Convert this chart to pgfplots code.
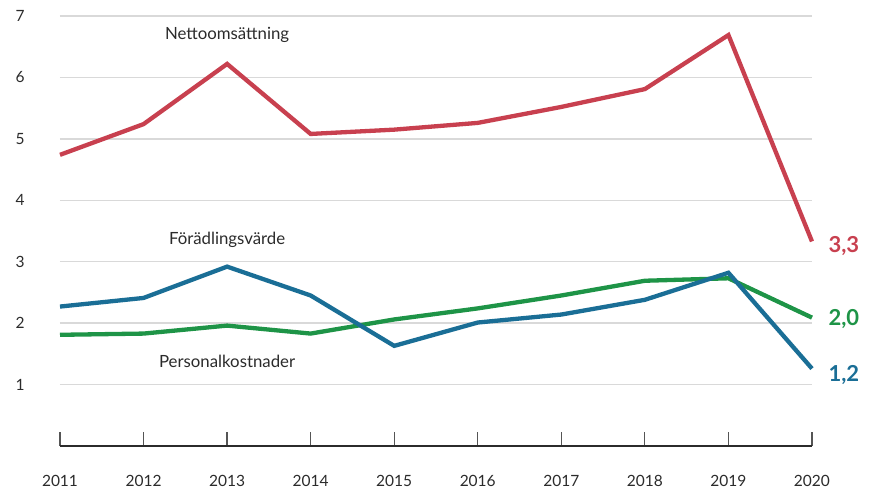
\documentclass[border=0pt]{standalone}
\usepackage{fontspec}
\setmainfont{Lato}
\usepackage{pgfplots}
\pgfplotsset{compat=1.18}
\definecolor{cred}{HTML}{C8404F}
\definecolor{cblue}{HTML}{1A6E96}
\definecolor{cgreen}{HTML}{1E9447}
\definecolor{ctext}{HTML}{2B2B2B}
\definecolor{cgrid}{HTML}{D9D9D9}
\begin{document}
\begin{tikzpicture}
\path[use as bounding box] (-60pt,-43pt) rectangle (821pt,446pt);
\begin{axis}[
  at={(0pt,0pt)}, anchor=south west,
  scale only axis, width=752pt, height=430pt,
  xmin=2011, xmax=2020, ymin=0, ymax=7,
  xtick={2011,...,2020}, ytick={1,...,7},
  /pgf/number format/assume math mode=true,
  xticklabel style={/pgf/number format/1000 sep={}, anchor=center, yshift=-35pt, font=\fontsize{15.5}{18}\selectfont, text=ctext},
  yticklabel style={anchor=center, xshift=-40pt, font=\fontsize{15.5}{18}\selectfont, text=ctext},
  axis x line*=bottom, axis y line*=left,
  x axis line style={-, draw=ctext, line width=1.2pt},
  y axis line style={draw=none},
  ytick style={draw=none},
  xtick style={draw=ctext!80, line width=1.2pt},
  major tick length=14pt, tick align=inside,
  ymajorgrids, major grid style={cgrid, line width=1.3pt},
  clip=false,
  every axis plot/.append style={line width=4.3pt, line join=miter, no markers},
]
\addplot[cred] coordinates {(2011,4.74) (2012,5.24) (2013,6.22) (2014,5.08) (2015,5.15) (2016,5.26) (2017,5.52) (2018,5.81) (2019,6.69) (2020,3.33)};
\addplot[cgreen] coordinates {(2011,1.81) (2012,1.83) (2013,1.96) (2014,1.83) (2015,2.06) (2016,2.24) (2017,2.45) (2018,2.69) (2019,2.73) (2020,2.09)};
\addplot[cblue] coordinates {(2011,2.27) (2012,2.41) (2013,2.92) (2014,2.45) (2015,1.63) (2016,2.01) (2017,2.14) (2018,2.38) (2019,2.82) (2020,1.26)};
\node[font=\fontsize{16.8}{19}\selectfont, text=ctext] at (axis cs:2013,6.69) {Nettoomsättning};
\node[font=\fontsize{16.8}{19}\selectfont, text=ctext] at (axis cs:2013,3.35) {Förädlingsvärde};
\node[font=\fontsize{16.8}{19}\selectfont, text=ctext] at (axis cs:2013,1.38) {Personalkostnader};
\node[anchor=west, font=\fontsize{22}{24}\bfseries, text=cred, xshift=13pt] at (axis cs:2020,3.25) {3,3};
\node[anchor=west, font=\fontsize{22}{24}\bfseries, text=cgreen, xshift=13pt] at (axis cs:2020,2.07) {2,0};
\node[anchor=west, font=\fontsize{22}{24}\bfseries, text=cblue, xshift=13pt] at (axis cs:2020,1.15) {1,2};
\end{axis}
\end{tikzpicture}
\end{document}
